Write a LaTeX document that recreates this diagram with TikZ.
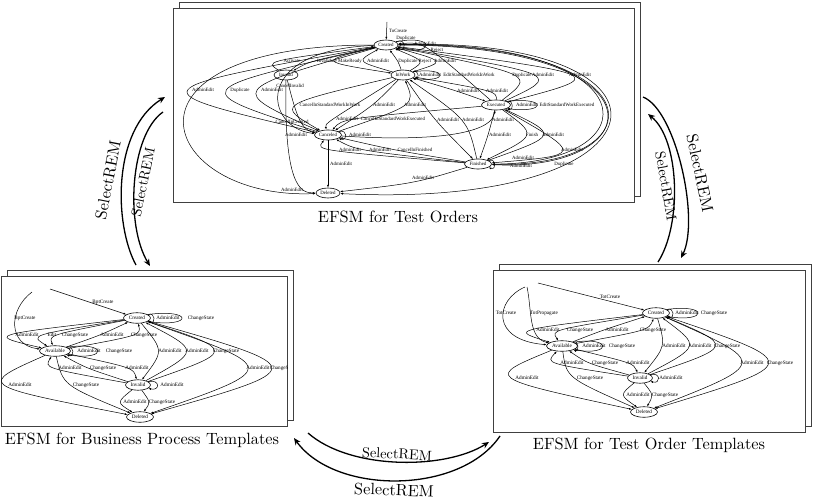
\documentclass[tikz,border=0pt]{standalone}
\usepackage{fontspec}
\newfontfamily\gv{Liberation Serif}
\usetikzlibrary{arrows.meta,calc,shapes.geometric}
\newcounter{lbc}
\newcommand{\el}[5][]{\stepcounter{lbc}\edef\curlab{L\arabic{lbc}}%
 \node[elab] (\curlab) at (#4) {#5};%
 \draw[ed,#1] (#2) .. controls ($1.3333*(\curlab.west)-0.16667*(#2)-0.16667*(#3)+(-1.33,0)$) .. (#3);}
\newcommand{\elt}[6][]{\stepcounter{lbc}\edef\curlab{L\arabic{lbc}}%
 \node[elab] (\curlab) at (#5) {#6};%
 \draw[ed,#1] (#2) .. controls ($1.3333*(#4)-0.16667*(#2)-0.16667*(#3)$) .. (#3);}
\newcommand{\lab}[2]{\stepcounter{lbc}\node[elab] (L\arabic{lbc}) at (#1) {#2};}
\newcommand{\sloop}[3]{\draw[ed] (#1.18) .. controls +({#2*1.333},{-#3}) and +({#2*1.333},{#3}) .. (#1.-18);}
\begin{document}
\begin{tikzpicture}[x=1pt,y=-1pt,
  ed/.style={line width=0.5pt,-{Latex[length=2.8pt,width=2pt]}},
  lb/.style={inner sep=0pt,font=\gv\fontsize{4.9}{5}\selectfont},
  lbs/.style={inner sep=0pt,font=\gv\fontsize{5.2}{6}\selectfont},
  elab/.style={lb},
  st/.style={ellipse,draw,line width=0.6pt,inner sep=0pt,minimum width=24pt,minimum height=10pt,font=\gv\fontsize{4.9}{5}\selectfont},
  sts/.style={ellipse,draw,line width=0.6pt,inner sep=0pt,minimum width=27pt,minimum height=10.5pt,font=\gv\fontsize{5.2}{6}\selectfont},
  boxfr/.style={draw=black!75,line width=0.8pt,fill=white},
  bigarr/.style={line width=1.3pt,-{Stealth[length=7pt,width=6pt]}},
  bigl/.style={font=\fontsize{10}{12}\selectfont,inner sep=0pt,scale=1.63},
  bigli/.style={font=\fontsize{10}{12}\selectfont,inner sep=0pt,scale=1.43},
  captxt/.style={font=\fontsize{10}{12}\selectfont,inner sep=0pt,scale=1.63}]
\useasboundingbox (0,0) rectangle (814,503);
% frames
\draw[boxfr] (179,2) rectangle (640,196);
\draw[boxfr] (173,8) rectangle (634,202);
\draw[boxfr] (7,270) rectangle (293,420);
\draw[boxfr] (1,276) rectangle (287,426);
\draw[boxfr] (499,264) rectangle (811,426);
\draw[boxfr] (493,270) rectangle (805,432);
% captions
\node[captxt] (cap1) at (398,217) {EFSM for Test Orders};
\node[captxt] (cap2) at (142,440) {EFSM for Business Process Templates};
\node[captxt] (cap3) at (649,445) {EFSM for Test Order Templates};
% ===== top graph =====
\begin{scope}
\clip (173,8) rectangle (634,202);
\node[st] (C) at (386,45) {Created};
\node[st] (W) at (403,75) {InWork};
\node[st] (V) at (286,75) {Invalid};
\node[st,minimum width=29pt] (X) at (496,105) {Executed};
\node[st,minimum width=27pt] (N) at (328,135) {Canceled};
\node[st,minimum width=27pt] (F) at (478,164) {Finished};
\node[st] (D) at (328,193) {Deleted};
\coordinate (c0) at (387,22);
\draw[ed] (c0) -- (C);
\node[lb,anchor=west] (t0) at (389,31) {ToCreate};
\el{N}{C}{203,90}{AdminEdit}
\el{N}{C}{240,90}{Duplicate}
\el{C}{N}{272,90}{AdminEdit}
\el{V}{C}{292,61}{Activate}
\el{C}{V}{327,61}{Invalidate}
\el{C}{W}{350,61}{MakeReady}
\el{W}{C}{378,61}{AdminEdit}
\el{W}{C}{408,61}{Duplicate}
\el{W}{C}{425,61}{Reject}
\el{C}{W}{445,61}{AdminEdit}
\elt{X}{C}{428,50}{437,50}{Reject}
\sloop{C}{8}{5}
\sloop{C}{30}{8}
\lab{406,38}{Duplicate}
\lab{425,44}{AdminEdit}
\sloop{W}{5}{3}
\sloop{W}{27}{5}
\lab{430,75}{AdminEdit}
\lab{469,75}{EditStandardWorkInWork}
\el{W}{N}{330,105}{CancelInStandardWorkInWork}
\el{W}{N}{384,105}{AdminEdit}
\el{N}{W}{415,105}{AdminEdit}
\el{X}{N}{393,119}{CancelInStandardWorkExecuted}
\el{W}{N}{347,119}{AdminEdit}
\draw[ed] (N) .. controls (400,140) and (490,140) .. (X);
\lab{503,120}{AdminEdit}
\el{W}{F}{448,120}{AdminEdit}
\el{F}{W}{473,120}{AdminEdit}
\el{W}{X}{468,91}{AdminEdit}
\el{X}{W}{497,91}{AdminEdit}
\el{X}{C}{522,75}{Duplicate}
\el{X}{C}{543,75}{AdminEdit}
\el{C}{X}{580,75}{AdminEdit}
\sloop{X}{5}{3}
\sloop{X}{30}{5}
\lab{527,105}{AdminEdit}
\lab{567,105}{EditStandardWorkExecuted}
\el{X}{F}{500,135}{AdminEdit}
\el{X}{F}{532,135}{Finish}
\el{F}{X}{553,135}{AdminEdit}
\el{X}{F}{572,150}{AdminEdit}
\el{F}{N}{350,150}{AdminEdit}
\el{F}{N}{380,150}{AdminEdit}
\el{F}{N}{415,150}{CancelInFinished}
\sloop{N}{7}{3}
\lab{360,135}{AdminEdit}
\draw[ed] (N) -- (D);
\node[lb,anchor=west] (t1) at (330,164) {AdminEdit};
\elt{F}{D}{412,182}{423,178}{AdminEdit}
\draw[ed] (C) .. controls (100,45) and (160,200) .. (D);
\lab{292,190}{AdminEdit}
\draw[ed] (V) .. controls (284,185) and (300,193) .. (D);
\lab{296,135}{AdminEdit}
\draw[ed] (V) .. controls (295,110) and (300,130) .. (N);
\lab{290,86}{CancelInvalid}
\draw[ed] (C) .. controls (250,50) and (265,128) .. (N);
\lab{292,122}{CancelInCreated}
\draw[ed] (C) .. controls (660,42) and (660,168) .. (F);
\draw[ed] (C) .. controls (668,45) and (652,172) .. (F);
\draw[ed] (F) .. controls (655,165) and (650,40) .. (C);
\lab{564,164}{Duplicate}
\lab{523,158}{AdminEdit}
\draw[ed] (C) .. controls (700,35) and (680,210) .. (D);
\sloop{F}{6}{3}
\lab{521,166}{AdminEdit}
\end{scope}
% ===== bottom-left graph =====
\begin{scope}[elab/.style={lbs}]
\clip (1,276) rectangle (287,426);
\node[sts] (bC) at (137,318) {Created};
\node[sts,minimum width=31pt] (bA) at (55,351) {Available};
\node[sts,minimum width=25pt] (bI) at (138,385) {Invalid};
\node[sts] (bD) at (140,417) {Deleted};
\coordinate (b0) at (50,289);
\draw[ed] (b0) -- (bC);
\lab{103,302}{BptCreate}
\coordinate (b1) at (32,292);
\draw[ed] (b1) .. controls (8,310) and (8,345) .. (bA);
\lab{25,318}{BptCreate}
\el{bC}{bA}{27,335}{AdminEdit}
\el{bC}{bA}{52,335}{Edit}
\el{bC}{bA}{75,335}{ChangeState}
\el{bA}{bC}{112,335}{AdminEdit}
\el{bA}{bC}{144,335}{ChangeState}
\sloop{bC}{6}{3}
\sloop{bC}{34}{6}
\lab{168,318}{AdminEdit}
\lab{201,318}{ChangeState}
\sloop{bA}{6}{3}
\sloop{bA}{31}{6}
\lab{89,351}{AdminEdit}
\lab{119,351}{ChangeState}
\el{bC}{bI}{170,351}{AdminEdit}
\el{bI}{bC}{197,351}{AdminEdit}
\el{bI}{bC}{226,351}{ChangeState}
\el{bA}{bI}{137,368}{AdminEdit}
\el{bI}{bA}{103,368}{ChangeState}
\el{bI}{bA}{70,368}{AdminEdit}
\el{bC}{bD}{258,368}{AdminEdit}
\el{bC}{bD}{283,368}{ChangeState}
\el{bA}{bD}{20,385}{AdminEdit}
\el{bA}{bD}{86,385}{ChangeState}
\sloop{bI}{9}{3}
\lab{172,385}{AdminEdit}
\el{bI}{bD}{135,402}{AdminEdit}
\el{bI}{bD}{162,402}{ChangeState}
\end{scope}
% ===== bottom-right graph =====
\begin{scope}[elab/.style={lbs}]
\clip (493,270) rectangle (805,432);
\node[sts] (rC) at (656,313) {Created};
\node[sts,minimum width=31pt] (rA) at (562,346) {Available};
\node[sts,minimum width=25pt] (rI) at (640,378) {Invalid};
\node[sts] (rD) at (644,412) {Deleted};
\coordinate (r0) at (538,283);
\draw[ed] (r0) -- (rC);
\lab{610,297}{TotCreate}
\coordinate (r1) at (525,287);
\draw[ed] (r1) .. controls (495,300) and (490,340) .. (rA);
\lab{506,313}{TotCreate}
\coordinate (r2) at (527,287);
\draw[ed] (r2) .. controls (532,310) and (528,338) .. (rA);
\lab{544,313}{TotPropagate}
\el{rC}{rA}{548,330}{AdminEdit}
\el{rC}{rA}{580,330}{ChangeState}
\el{rA}{rC}{617,330}{AdminEdit}
\el{rA}{rC}{653,330}{ChangeState}
\sloop{rC}{6}{3}
\sloop{rC}{31}{6}
\lab{687,313}{AdminEdit}
\lab{714,313}{ChangeState}
\sloop{rA}{4}{3}
\sloop{rA}{29}{6}
\lab{594,346}{AdminEdit}
\lab{622,346}{ChangeState}
\el{rC}{rI}{674,346}{AdminEdit}
\el{rI}{rC}{700,346}{AdminEdit}
\el{rI}{rC}{727,346}{ChangeState}
\el{rA}{rI}{638,363}{AdminEdit}
\el{rI}{rA}{605,363}{ChangeState}
\el{rI}{rA}{572,363}{AdminEdit}
\el{rC}{rD}{752,363}{AdminEdit}
\el{rC}{rD}{780,363}{ChangeState}
\el{rA}{rD}{527,378}{AdminEdit}
\el{rA}{rD}{590,378}{ChangeState}
\sloop{rI}{8}{3}
\lab{671,378}{AdminEdit}
\el{rI}{rD}{638,395}{AdminEdit}
\el{rI}{rD}{665,395}{ChangeState}
\end{scope}
% ===== SelectREM arrows =====
\coordinate (la1) at (136,265); \coordinate (la2) at (165,97);
\coordinate (lb1) at (163,112); \coordinate (lb2) at (150,266);
\draw[bigarr] (la1) .. controls (114,225) and (112,130) .. (la2);
\draw[bigarr] (lb1) .. controls (130,135) and (125,225) .. (lb2);
\node[bigl,rotate=79] (s1) at (108,180) {SelectREM};
\node[bigli,rotate=78] (s2) at (143,182) {SelectREM};
\coordinate (ra1) at (643,97); \coordinate (ra2) at (681,258);
\coordinate (rb1) at (658,262); \coordinate (rb2) at (648,114);
\draw[bigarr] (ra1) .. controls (676,110) and (700,220) .. (ra2);
\draw[bigarr] (rb1) .. controls (682,225) and (680,140) .. (rb2);
\node[bigl,rotate=-78] (s3) at (700,173) {SelectREM};
\node[bigli,rotate=-80] (s4) at (666,186) {SelectREM};
\coordinate (ba1) at (308,433); \coordinate (ba2) at (489,442);
\coordinate (bb1) at (500,436); \coordinate (bb2) at (294,438);
\draw[bigarr] (ba1) .. controls (350,470) and (445,470) .. (ba2);
\draw[bigarr] (bb1) .. controls (460,495) and (335,495) .. (bb2);
\node[bigli,rotate=-3] (s5) at (397,454) {SelectREM};
\node[bigl,rotate=-2] (s6) at (394,490) {SelectREM};
\end{tikzpicture}
\end{document}
